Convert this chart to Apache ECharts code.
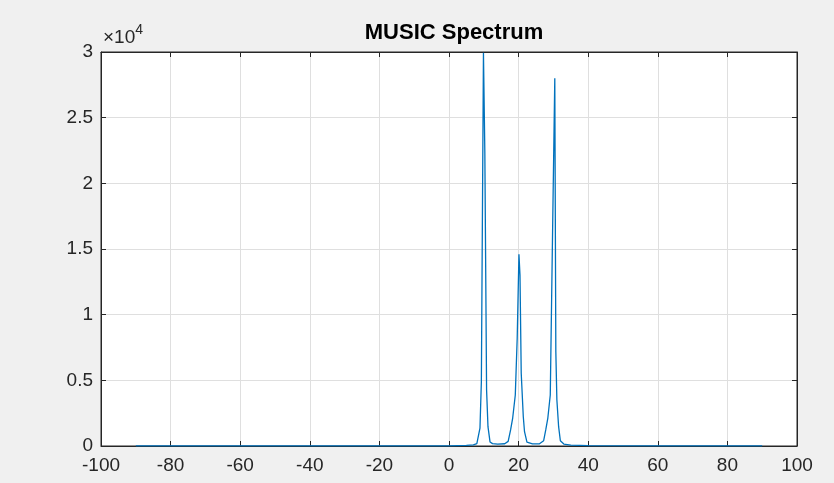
<!DOCTYPE html>
<html>
<head>
<meta charset="utf-8">
<script src="https://cdn.jsdelivr.net/npm/echarts@6/dist/echarts.min.js"></script>
<style>
html,body{margin:0;padding:0;background:#f0f0f0;}
#chart{width:834px;height:483px;}
</style>
</head>
<body>
<div id="chart"></div>
<script>
// Angle (degrees) and MUSIC pseudo-spectrum values
var angleDeg = [-90, -60, -30, 0, 5, 7, 8, 8.5, 8.9, 9.3, 9.9, 10.3, 10.8, 11.2, 11.8, 12.5,
  14, 16, 17, 17.7, 18.3, 19.05, 19.6, 20.1, 20.4, 20.75, 21.35, 21.7, 22.4, 24,
  26, 27.2, 27.8, 28.4, 29.1, 29.8, 30.4, 30.7, 31.0, 31.5, 32, 33, 35, 40, 60, 90];
var spectrum = [5, 6, 8, 15, 40, 90, 180, 330, 1370, 4900, 29950, 22300, 4260, 1470, 300, 180,
  150, 170, 350, 1220, 2130, 3880, 8220, 14600, 13000, 5560, 2230, 1090, 300, 160,
  170, 400, 1220, 2130, 3880, 16980, 28000, 7180, 3500, 1470, 400, 150, 60, 30, 10, 5];
var xTicks = [-100, 100, 20];      // min, max, interval
var yTicks = [0, 30000, 5000];     // min, max, interval
var titleText = 'MUSIC Spectrum';

var pts = angleDeg.map(function (a, i) { return [a, spectrum[i]]; });
var axisColor = '#262626';
var gridColor = '#dfdfdf';
var fontFam = 'Liberation Sans, Arial, Helvetica, sans-serif';

var chart = echarts.init(document.getElementById('chart'));
chart.setOption({
  backgroundColor: '#f0f0f0',
  animation: false,
  title: {
    text: titleText,
    left: 449,
    textAlign: 'center',
    top: 17,
    textStyle: { fontFamily: fontFam, fontSize: 22, fontWeight: 'bold', color: '#000' }
  },
  grid: {
    left: 101, right: 37, top: 52, bottom: 37,
    show: true, backgroundColor: '#ffffff', borderColor: axisColor, borderWidth: 1
  },
  xAxis: [{
    type: 'value', min: xTicks[0], max: xTicks[1], interval: xTicks[2],
    position: 'bottom',
    axisLine: { show: true, onZero: false, lineStyle: { color: axisColor, width: 1 } },
    axisTick: { show: true, inside: true, length: 5, lineStyle: { color: axisColor } },
    axisLabel: { color: axisColor, fontSize: 19, fontFamily: fontFam, margin: 10 },
    splitLine: { show: true, lineStyle: { color: gridColor, width: 1 } }
  }, {
    type: 'value', min: xTicks[0], max: xTicks[1], interval: xTicks[2],
    position: 'top',
    axisLine: { show: true, onZero: false, lineStyle: { color: axisColor, width: 1 } },
    axisTick: { show: true, inside: true, length: 5, lineStyle: { color: axisColor } },
    axisLabel: { show: false },
    splitLine: { show: false }
  }],
  yAxis: [{
    type: 'value', min: yTicks[0], max: yTicks[1], interval: yTicks[2],
    position: 'left',
    axisLine: { show: true, onZero: false, lineStyle: { color: axisColor, width: 1 } },
    axisTick: { show: true, inside: true, length: 5, lineStyle: { color: axisColor } },
    axisLabel: {
      color: axisColor, fontSize: 19, fontFamily: fontFam, margin: 8,
      formatter: function (v) { return String(v / 10000); }
    },
    splitLine: { show: true, lineStyle: { color: gridColor, width: 1 } },
    name: '{a|×10}{b|4}',
    nameLocation: 'end',
    nameGap: 5,
    nameTextStyle: {
      align: 'left', verticalAlign: 'bottom', padding: [0, 0, 0, 2],
      rich: {
        a: { fontSize: 19, fontFamily: fontFam, color: axisColor, verticalAlign: 'bottom' },
        b: { fontSize: 14, fontFamily: fontFam, color: axisColor, verticalAlign: 'top', padding: [0, 0, 10, 0] }
      }
    }
  }, {
    type: 'value', min: yTicks[0], max: yTicks[1], interval: yTicks[2],
    position: 'right',
    axisLine: { show: true, onZero: false, lineStyle: { color: axisColor, width: 1 } },
    axisTick: { show: true, inside: true, length: 5, lineStyle: { color: axisColor } },
    axisLabel: { show: false },
    splitLine: { show: false }
  }],
  series: [{
    type: 'line',
    xAxisIndex: 0, yAxisIndex: 0,
    data: pts,
    showSymbol: false,
    symbol: 'none',
    lineStyle: { color: '#0072bd', width: 1.3 },
    z: 5
  }]
});
</script>
</body>
</html>
